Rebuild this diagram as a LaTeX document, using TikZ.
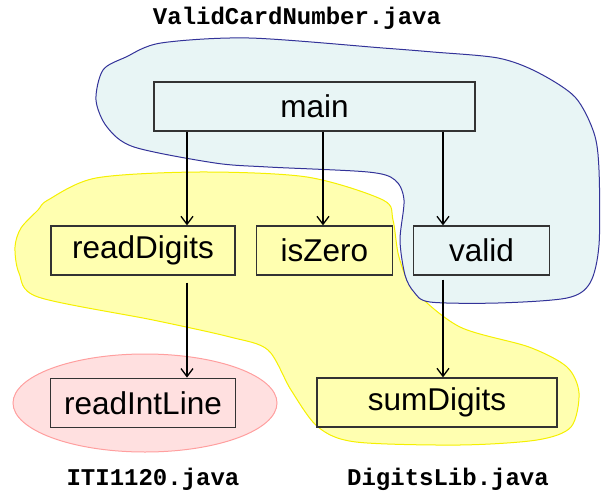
\documentclass[tikz,border=0pt]{standalone}
\usepackage{fontspec}
\usepackage{xcolor}
\usepackage{tikz}
\usetikzlibrary{arrows.meta,positioning}
\newfontfamily\arialfnt{Liberation Sans}
\newfontfamily\courfnt{Liberation Mono}
\definecolor{blobblue}{HTML}{E8F5F5}
\definecolor{lineblue}{HTML}{333399}
\definecolor{blobyellow}{HTML}{FFFFB0}
\definecolor{lineyellow}{HTML}{F5F000}
\definecolor{blobpink}{HTML}{FFE0E0}
\definecolor{linepink}{HTML}{FF9F9F}

\begin{document}
\begin{tikzpicture}[
  x=0.5pt, y=-0.5pt,
  node distance=10pt and 10pt,
  fn/.style={rectangle, draw=black!80, line width=0.65pt, inner sep=0pt,
    minimum height=24.5pt, font=\arialfnt\fontsize{15.75}{18}\selectfont},
  file/.style={font=\courfnt\bfseries\fontsize{12}{14}\selectfont},
  arr/.style={-{Straight Barb[length=4pt,width=6pt]}, line width=0.65pt}
]
\useasboundingbox (0,0) rectangle (601,493);

% zones
\draw[fill=blobyellow, draw=lineyellow, line width=0.5pt] plot[smooth cycle, tension=0.5] coordinates {
  (48,200) (96,178) (199,172) (307,177) (383,200) (393,220) (399,257) (414,290)
  (460,327) (529,347) (567,367) (579,393) (571,427) (537,440) (460,445) (356,442)
  (318,427) (291,390) (268,350) (230,337) (153,320) (38,297) (19,273) (15,247)
  (21,228) (38,210)};
\draw[fill=blobblue, draw=lineblue, line width=0.5pt] plot[smooth cycle, tension=0.5] coordinates {
  (96,100) (103,70) (126,57) (161,43) (249,38) (383,48) (433,52) (498,58)
  (537,72) (575,97) (594,133) (599,170) (599,245) (590,283) (567,298) (498,303)
  (430,302) (414,292) (405,275) (400,240) (404,200) (395,180) (368,172) (268,167)
  (215,163) (134,147) (107,127)};
\draw[fill=blobpink, draw=linepink, line width=0.5pt] (145,403) ellipse [x radius=132, y radius=49];

% methods
\node[fn, minimum width=160.5pt] (main) at (314.5,106.5) {main};
\node[fn, minimum width=92pt] (readDigits) at (143,250.5) {readDigits};
\node[fn, minimum width=68pt, right=of readDigits] (isZero) {isZero};
\node[fn, minimum width=68pt, right=of isZero] (valid) {valid};
\node[fn, minimum width=92.5pt, below=51pt of readDigits] (readIntLine) {readIntLine};
\node[fn, minimum width=120pt] (sumDigits) at (437,402.5) {sumDigits};

% files
\node[file] (vcn) at (297,18) {ValidCardNumber.java};
\node[file] (iti) at (153,479) {ITI1120.java};
\node[file] (dlib) at (448,479) {DigitsLib.java};

% calls
\coordinate (c1) at (187,0);
\coordinate (c2) at (323,0);
\coordinate (c3) at (443,0);
\draw[arr] (main.south -| c1) -- (readDigits.north -| c1);
\draw[arr] (main.south -| c2) -- (isZero.north -| c2);
\draw[arr] (main.south -| c3) -- (valid.north -| c3);
\draw[arr, shorten <=3.5pt] (readDigits.south -| c1) -- (readIntLine.north -| c1);
\draw[arr, shorten <=2pt] (valid.south -| c3) -- (sumDigits.north -| c3);
\end{tikzpicture}
\end{document}
